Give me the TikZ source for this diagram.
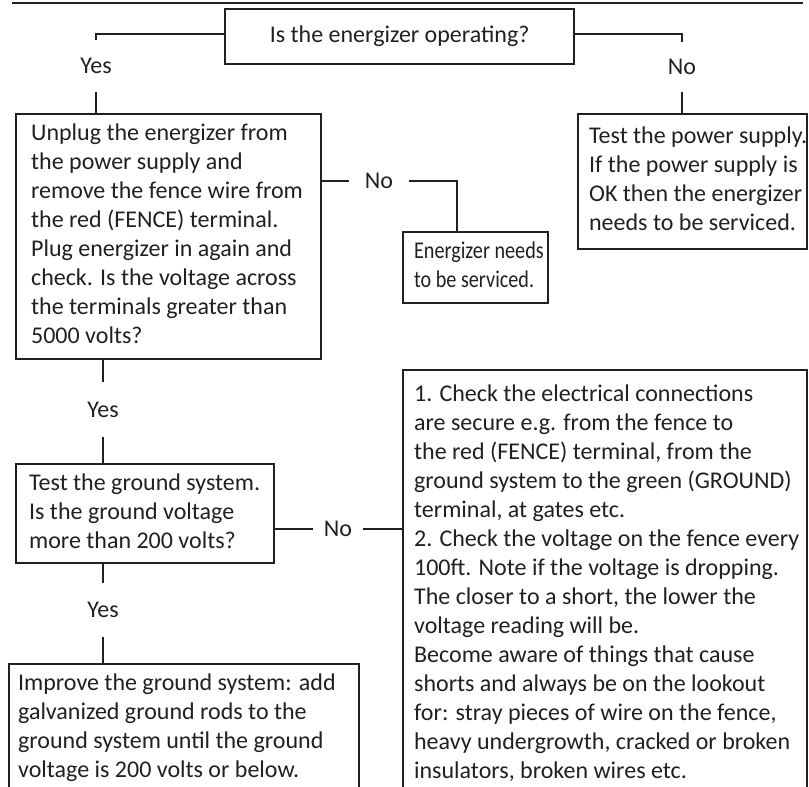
\documentclass[tikz,border=0pt]{standalone}
\usepackage{fontspec}
\setmainfont{Carlito}
\newfontfamily\narrowfont[FakeStretch=0.84]{Carlito}
\usetikzlibrary{calc}
\definecolor{ink}{RGB}{35,31,32}
\newcommand\flowtext[4]{\parbox[c][#1][c]{#2}{\fontsize{18pt}{21.75pt}\selectfont\raggedright\leftskip=#3\relax\strut#4\strut}}
\begin{document}
\begin{tikzpicture}[x=0.75pt,y=-0.75pt,
  box/.style={draw=ink,line width=1.7pt,inner sep=0pt,anchor=north west,text=ink,
    font=\fontsize{18pt}{21.75pt}\selectfont},
  lbl/.style={inner sep=0pt,text=ink,font=\fontsize{18pt}{21.75pt}\selectfont},
  link/.style={draw=ink,line width=1.7pt},
  rule/.style={draw=ink,line width=1pt}]
\useasboundingbox (0,0) rectangle (809,786);
\coordinate (ruleA) at (12,3);
\coordinate (ruleB) at (803,3);
\draw[rule] (ruleA) -- (ruleB);

\node[box,minimum width=261.75pt,minimum height=41.25pt] (top) at (224,8) {Is the energizer operating?};

\node[box] (b2) at (15,113) {\flowtext{183.75pt}{228.75pt}{11.25pt}{Unplug the energizer from\\
the power supply and\\
remove the fence wire from\\
the red (FENCE) terminal.\\
Plug energizer in again and\\
check. Is the voltage across\\
the terminals greater than\\
5000 volts?}};

\node[box] (b3) at (402,231) {\flowtext{53.25pt}{108.75pt}{8.25pt}{\narrowfont Energizer needs\\
to be serviced.}};

\node[box] (b4) at (577,113) {\flowtext{101.25pt}{171.75pt}{8.25pt}{Test the power supply.\\
If the power supply is\\
OK then the energizer\\
needs to be serviced.}};

\node[box] (b5) at (402,369) {\flowtext{321pt}{303pt}{8.25pt}{1. Check the electrical connections\\
are secure e.g. from the fence to\\
the red (FENCE) terminal, from the\\
ground system to the green (GROUND)\\
terminal, at gates etc.\\
2. Check the voltage on the fence every\\
100ft. Note if the voltage is dropping.\\
The closer to a short, the lower the\\
voltage reading will be.\\
Become aware of things that cause\\
shorts and always be on the lookout\\
for: stray pieces of wire on the fence,\\
heavy undergrowth, cracked or broken\\
insulators, broken wires etc.}};

\node[box] (b6) at (15,463) {\flowtext{74.25pt}{193.5pt}{9.75pt}{Test the ground system.\\
Is the ground voltage\\
more than 200 volts?}};

\node[box] (b7) at (8,663) {\flowtext{96pt}{262.5pt}{6.75pt}{Improve the ground system: add\\
galvanized ground rods to the\\
ground system until the ground\\
voltage is 200 volts or below.}};

% labels
\node[lbl,minimum height=39pt] (yes1) at (96,66) {Yes};
\node[lbl,minimum height=37.5pt] (no1) at (682,67) {No};
\node[lbl,minimum width=45pt] (no2) at (379,181) {No};
\node[lbl,minimum height=41.25pt] (yes2) at (103,409.5) {Yes};
\node[lbl,minimum width=37.5pt] (no3) at (338,529) {No};
\node[lbl,minimum height=40.5pt] (yes3) at (103,610) {Yes};

% connectors
\draw[link] ($(top.west)+(0,-3)$) -| (yes1.north);
\draw[link] ($(top.east)+(0,-3)$) -| (no1.north);
\draw[link] (yes1.south) -- (yes1.south |- b2.north);
\draw[link] (no1.south) -- (no1.south |- b4.north);
\draw[link] (b2.east |- no2.west) -- (no2.west);
\draw[link] (no2.east) -| ($(b3.north west)+(55,0)$);
\draw[link] (yes2.north |- b2.south) -- (yes2.north);
\draw[link] (yes2.south) -- (yes2.south |- b6.north);
\draw[link] (b6.east |- no3.west) -- (no3.west);
\draw[link] (no3.east) -- (no3.east -| b5.west);
\draw[link] (yes3.north |- b6.south) -- (yes3.north);
\draw[link] (yes3.south) -- (yes3.south |- b7.north);
\end{tikzpicture}
\end{document}
